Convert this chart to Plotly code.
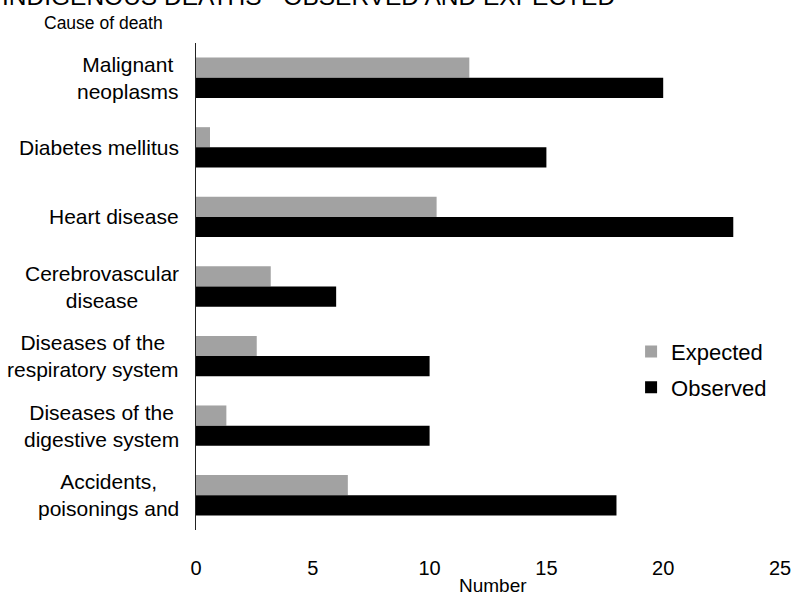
import plotly.graph_objects as go

causes = ['Malignant neoplasms', 'Diabetes mellitus', 'Heart disease', 'Cerebrovascular disease',
          'Diseases of the respiratory system', 'Diseases of the digestive system',
          'Accidents, poisonings and violence']
cause_labels = ['Malignant<br>neoplasms', 'Diabetes mellitus', 'Heart disease', 'Cerebrovascular<br>disease',
                'Diseases of the<br>respiratory system', 'Diseases of the<br>digestive system',
                'Accidents,<br>poisonings and']
expected = [11.7, 0.6, 10.3, 3.2, 2.6, 1.3, 6.5]
observed = [20, 15, 23, 6, 10, 10, 18]

fig = go.Figure()
fig.add_trace(go.Bar(y=causes, x=expected, orientation='h', name='Expected', legendgroup='e',
                     marker_color='#a2a2a2', marker_line_width=0))
fig.add_trace(go.Bar(y=causes, x=observed, orientation='h', name='Observed', legendgroup='o',
                     marker_color='#000000', marker_line_width=0))

# category labels (centred lines, like the printed chart)
for c, lab in zip(causes, cause_labels):
    fig.add_annotation(x=-0.026, xref='paper', xanchor='right', y=c, yref='y',
                       text=lab, showarrow=False, align='center',
                       font=dict(size=21, color='black'))

fig.add_annotation(x=0, xref='paper', xanchor='left', y=1.096, yref='paper', yanchor='middle',
                   xshift=-196, text='INDIGENOUS DEATHS - OBSERVED AND EXPECTED', showarrow=False,
                   font=dict(size=24.5, color='black'))
fig.add_annotation(x=0, xref='paper', xanchor='left', y=1.041, yref='paper', yanchor='middle',
                   xshift=-154, text='Cause of death', showarrow=False,
                   font=dict(size=17.5, color='black'))
fig.add_annotation(x=0.5, xref='paper', xanchor='center', y=-0.113, yref='paper', yanchor='middle',
                   xshift=5, text='Number', showarrow=False, font=dict(size=19, color='black'))

fig.update_layout(
    width=797, height=595,
    margin=dict(l=196, r=17, t=43, b=65),
    plot_bgcolor='white', paper_bgcolor='white',
    barmode='group', bargap=0.42, bargroupgap=0,
    font=dict(family='Liberation Sans, Arial, sans-serif', color='black'),
    showlegend=True,
    legend=dict(x=0.745, y=0.409, xanchor='left', yanchor='top', traceorder='grouped',
                font=dict(size=22), bgcolor='rgba(0,0,0,0)', itemwidth=30, tracegroupgap=4),
    xaxis=dict(range=[0, 25], tickvals=[0, 5, 10, 15, 20, 25], showgrid=False, zeroline=False,
               showline=False, ticks='outside', ticklen=20, tickcolor='rgba(0,0,0,0)',
               automargin=False, tickfont=dict(size=20)),
    yaxis=dict(autorange='reversed', showticklabels=False, showgrid=False, zeroline=False,
               automargin=False, showline=True, linecolor='#222', linewidth=1, ticks=''),
)

# page margin off so the figure sits at the window's corner
fig.write_html("out.html", config={'displayModeBar': False},
               post_script="document.body.style.margin='0px';")
